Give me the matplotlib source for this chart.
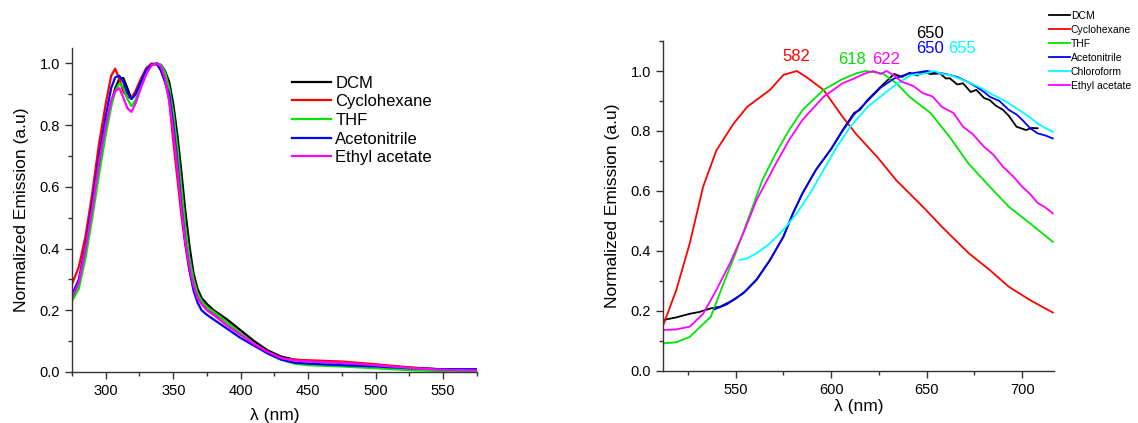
import numpy as np
import matplotlib
matplotlib.use('Agg')
import matplotlib.pyplot as plt
from matplotlib.ticker import MultipleLocator

plt.rcParams['font.family'] = ['Liberation Sans', 'DejaVu Sans']

### left panel : excitation spectra (common wavelength grid)
wl_exc = [275, 280, 285, 290, 295, 300, 304, 307, 310, 313, 316, 319, 322, 326, 330,
          334, 338, 341, 344, 347, 350, 353, 356, 359, 362, 365, 368, 371, 375, 380,
          390, 400, 410, 420, 430, 440, 450, 475, 500, 525, 550, 575]

exc_dcm = [0.24, 0.29, 0.39, 0.52, 0.66, 0.78, 0.87, 0.92, 0.95, 0.953, 0.92, 0.885, 0.9, 0.94, 0.975,
           0.995, 1.0, 0.995, 0.975, 0.94, 0.87, 0.77, 0.65, 0.52, 0.41, 0.32, 0.27, 0.24, 0.22, 0.2,
           0.17, 0.135, 0.1, 0.07, 0.05, 0.04, 0.035, 0.03, 0.022, 0.014, 0.008, 0.006]
exc_cyclo = [0.285, 0.34, 0.44, 0.58, 0.74, 0.87, 0.96, 0.983, 0.95, 0.91, 0.89, 0.89, 0.91, 0.95, 0.985,
             1.0, 0.995, 0.98, 0.94, 0.88, 0.75, 0.63, 0.51, 0.41, 0.33, 0.28, 0.245, 0.225, 0.21, 0.19,
             0.16, 0.125, 0.09, 0.065, 0.045, 0.04, 0.038, 0.034, 0.025, 0.015, 0.008, 0.005]
exc_thf = [0.23, 0.27, 0.37, 0.5, 0.64, 0.77, 0.86, 0.91, 0.935, 0.925, 0.885, 0.862, 0.88, 0.93, 0.97,
           0.995, 1.0, 0.995, 0.97, 0.92, 0.84, 0.73, 0.6, 0.47, 0.37, 0.3, 0.255, 0.23, 0.21, 0.195,
           0.16, 0.125, 0.09, 0.06, 0.04, 0.027, 0.022, 0.018, 0.012, 0.006, 0.003, 0.002]
exc_acn = [0.25, 0.3, 0.41, 0.55, 0.7, 0.83, 0.92, 0.955, 0.96, 0.94, 0.905, 0.885, 0.9, 0.94, 0.98,
           0.997, 1.0, 0.975, 0.94, 0.9, 0.8, 0.68, 0.54, 0.42, 0.33, 0.265, 0.225, 0.2, 0.185, 0.17,
           0.14, 0.11, 0.085, 0.06, 0.04, 0.03, 0.027, 0.022, 0.018, 0.012, 0.009, 0.009]
exc_etac = [0.24, 0.29, 0.4, 0.53, 0.68, 0.8, 0.88, 0.91, 0.92, 0.89, 0.855, 0.843, 0.87, 0.92, 0.965,
            0.995, 1.0, 0.99, 0.95, 0.88, 0.78, 0.66, 0.53, 0.42, 0.34, 0.28, 0.24, 0.22, 0.2, 0.185,
            0.15, 0.12, 0.09, 0.065, 0.045, 0.037, 0.034, 0.03, 0.022, 0.013, 0.007, 0.005]

### right panel : emission spectra (each solvent has its own grid)
wl_em_cyclo = [512, 519, 526, 533, 540, 549, 556, 568, 575, 582, 587, 596, 606, 613, 624,
               634, 648, 658, 672, 683, 693, 704, 716]
em_cyclo = [0.15, 0.27, 0.425, 0.614, 0.736, 0.825, 0.88, 0.937, 0.987, 1.0, 0.98, 0.937, 0.847, 0.79, 0.714,
            0.636, 0.547, 0.48, 0.392, 0.336, 0.28, 0.236, 0.194]

wl_em_thf = [512, 519, 526, 537, 543, 550, 557, 564, 571, 578, 585, 596, 605, 613, 618,
             627, 634, 641, 652, 662, 672, 683, 693, 704, 716]
em_thf = [0.091, 0.095, 0.113, 0.18, 0.28, 0.392, 0.514, 0.636, 0.725, 0.803, 0.87, 0.937, 0.97, 0.992, 1.0,
          0.992, 0.96, 0.914, 0.86, 0.78, 0.69, 0.614, 0.547, 0.492, 0.43]

wl_em_etac = [512, 519, 526, 533, 540, 547, 554, 561, 571, 578, 585, 596, 606, 612, 617, 622,
              626, 629, 633, 637, 643, 648, 653, 658, 664, 669, 674, 680, 685, 690, 695, 700, 704, 708, 712, 716]
em_etac = [0.136, 0.138, 0.147, 0.19, 0.27, 0.358, 0.458, 0.57, 0.69, 0.77, 0.837, 0.914, 0.959, 0.975, 0.99, 1.0,
           0.99, 1.0, 0.985, 0.964, 0.95, 0.926, 0.915, 0.88, 0.86, 0.814, 0.79, 0.747, 0.72, 0.68, 0.65, 0.614,
           0.59, 0.56, 0.545, 0.525]

wl_em_dcm = [512, 519, 526, 531, 537, 542, 547, 554, 561, 568, 575, 580, 585, 592, 600, 606,
             612, 615, 619, 626, 633, 637, 641, 645, 648, 652, 657, 660, 662, 666, 669, 673, 676,
             680, 683, 686, 690, 693, 697, 702, 705, 708]
em_dcm = [0.169, 0.178, 0.19, 0.196, 0.208, 0.214, 0.23, 0.258, 0.303, 0.369, 0.447, 0.525, 0.592, 0.67, 0.74, 0.803,
          0.86, 0.87, 0.903, 0.948, 0.99, 0.98, 0.994, 0.985, 0.998, 0.99, 0.992, 0.975, 0.976, 0.955, 0.959, 0.93, 0.937,
          0.91, 0.903, 0.885, 0.87, 0.85, 0.814, 0.803, 0.81, 0.809]

wl_em_acn = [539, 545, 550, 555, 561, 568, 575, 580, 585, 592, 600, 606, 612, 619, 626, 633,
             640, 645, 650, 655, 660, 666, 671, 676, 680, 683, 688, 693, 697, 700, 704, 708, 712, 716]
em_acn = [0.205, 0.22, 0.24, 0.265, 0.305, 0.37, 0.447, 0.525, 0.592, 0.67, 0.74, 0.8, 0.855, 0.9, 0.945, 0.975,
          0.99, 0.995, 1.0, 0.995, 0.99, 0.98, 0.965, 0.947, 0.93, 0.914, 0.9, 0.87, 0.855, 0.837, 0.81, 0.792,
          0.785, 0.775]

wl_em_chcl3 = [552, 556, 561, 568, 575, 582, 589, 596, 603, 610, 619, 628, 635, 642, 648, 654,
               658, 662, 667, 673, 678, 683, 688, 693, 697, 701, 704, 708, 712, 716]
em_chcl3 = [0.369, 0.375, 0.392, 0.425, 0.47, 0.525, 0.592, 0.67, 0.747, 0.814, 0.88, 0.926, 0.96, 0.987, 0.99, 1.0,
            0.99, 0.987, 0.975, 0.959, 0.945, 0.926, 0.91, 0.892, 0.875, 0.859, 0.845, 0.825, 0.81, 0.797]

### peak labels on the emission plot
peak_text = ['582', '618', '622', '650', '650', '655']
peak_x = [582, 611, 629, 651.5, 651.5, 668.5]
peak_y = [1.048, 1.039, 1.039, 1.125, 1.076, 1.076]
peak_col = ['#ff0000', '#00e000', '#ff00ff', 'black', '#0000ff', '#00ffff']

fig = plt.figure(figsize=(11.38, 4.23), dpi=100)
ax1 = fig.add_axes([0.0633, 0.1206, 0.3557, 0.7659])
ax2 = fig.add_axes([0.5826, 0.1236, 0.3434, 0.7794])

# colours of the Origin palette
c_black, c_red, c_green, c_blue, c_cyan, c_mag = 'black', '#ff0000', '#00e600', '#0000ff', '#00ffff', '#ff00ff'

lw1 = 1.6
ax1.plot(wl_exc, exc_dcm, color=c_black, lw=lw1, label='DCM')
ax1.plot(wl_exc, exc_cyclo, color=c_red, lw=lw1, label='Cyclohexane')
ax1.plot(wl_exc, exc_thf, color=c_green, lw=lw1, label='THF')
ax1.plot(wl_exc, exc_acn, color=c_blue, lw=lw1, label='Acetonitrile')
ax1.plot(wl_exc, exc_etac, color=c_mag, lw=lw1, label='Ethyl acetate')

lw2 = 1.3
ax2.plot(wl_em_dcm, em_dcm, color=c_black, lw=lw2, label='DCM')
ax2.plot(wl_em_cyclo, em_cyclo, color=c_red, lw=lw2, label='Cyclohexane')
ax2.plot(wl_em_thf, em_thf, color=c_green, lw=lw2, label='THF')
ax2.plot(wl_em_acn, em_acn, color=c_blue, lw=lw2, label='Acetonitrile')
ax2.plot(wl_em_chcl3, em_chcl3, color=c_cyan, lw=lw2, label='Chloroform')
ax2.plot(wl_em_etac, em_etac, color=c_mag, lw=lw2, label='Ethyl acetate')

for t, x, y, c in zip(peak_text, peak_x, peak_y, peak_col):
    ax2.text(x, y, t, color=c, fontsize=12, ha='center', va='center', clip_on=False)

ax1.set_xlim(275, 575)
ax1.set_ylim(0, 1.05)
ax2.set_xlim(512, 716.5)
ax2.set_ylim(0, 1.1)

for ax in (ax1, ax2):
    ax.spines['top'].set_visible(False)
    ax.spines['right'].set_visible(False)
    for s in ('left', 'bottom'):
        ax.spines[s].set_linewidth(1.0)
        ax.spines[s].set_color('#333333')
    ax.xaxis.set_major_locator(MultipleLocator(50))
    ax.xaxis.set_minor_locator(MultipleLocator(25))
    ax.yaxis.set_major_locator(MultipleLocator(0.2))
    ax.yaxis.set_minor_locator(MultipleLocator(0.1))
    ax.tick_params(which='major', direction='out', length=5, width=1.0, labelsize=10.5, color='#333333')
    ax.tick_params(which='minor', direction='out', length=3, width=1.0, color='#333333')
    ax.yaxis.set_major_formatter(matplotlib.ticker.FormatStrFormatter('%.1f'))
    ax.set_ylabel('Normalized Emission (a.u)', fontsize=12.5, labelpad=8)

ax1.set_xlabel('λ (nm)', fontsize=12.5, labelpad=7)
ax2.set_xlabel('λ (nm)', fontsize=12.5, labelpad=2)

ax1.legend(loc='upper left', bbox_to_anchor=(0.543, 0.915), frameon=False, fontsize=12,
           handlelength=2.35, handletextpad=0.25, labelspacing=0.22, borderpad=0, borderaxespad=0)
fig.legend(*ax2.get_legend_handles_labels(), loc='upper left', bbox_to_anchor=(1049 / 1138, 1 - 11 / 423),
           frameon=False, fontsize=7.5, handlelength=2.0, handletextpad=0.1, labelspacing=0.38,
           borderpad=0, borderaxespad=0)

fig.savefig('out.png', dpi=100)
